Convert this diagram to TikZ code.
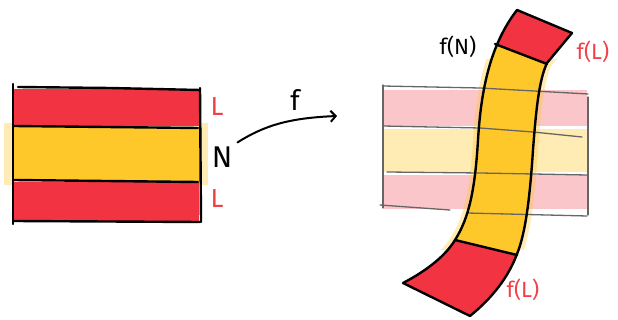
\documentclass[tikz,border=0pt]{standalone}
\usepackage{fontspec}
\setmainfont{Fira Sans}
\usetikzlibrary{arrows.meta}
\definecolor{flagred}{RGB}{242,52,66}
\definecolor{flagyellow}{RGB}{255,200,42}
\definecolor{labelred}{RGB}{240,64,72}
\newcommand\stripoutline{(517,10) -- (572,33) -- (547,63)
  .. controls (539,80) and (536,110) .. (533,150)
  .. controls (530,195) and (526,232) .. (517,254)
  .. controls (508,278) and (492,298) .. (470,316) -- (403,283)
  .. controls (428,270) and (446,255) .. (455,240)
  .. controls (469,218) and (475,190) .. (478,140)
  .. controls (481,90) and (490,45) .. (517,10) -- cycle}

\begin{document}
\begin{tikzpicture}[x=1pt,y=-1pt,
  outline/.style={line width=2.4pt,line cap=round,line join=round},
  faint/.style={line width=1.3pt,gray!80!black,line cap=round,line join=round},
  redlabel/.style={text=labelred,inner sep=1pt},
  blacklabel/.style={inner sep=1pt},
  arr/.style={-{Straight Barb[length=5pt,width=11pt]},line width=2pt,line cap=round},
]
\useasboundingbox (0,0) rectangle (618,320);

% Left flag
\fill[flagyellow,opacity=0.35] (4,123) rectangle (208,185);
\fill[flagyellow] (12,127) rectangle (202,181);
\fill[flagred] (14,89) rectangle (199,126);
\fill[flagred] (14,182) rectangle (199,221);
\draw[outline] (13,84) -- (13,224);
\draw[outline] (18,87) -- (110,88) -- (200,90);
\draw[outline] (200,88) -- (201,222);
\draw[outline] (14,126) -- (198,128);
\draw[outline] (14,180) -- (198,182);
\draw[outline] (14,221) -- (200,222);

\node[redlabel,font=\fontsize{26}{26}\selectfont] (Ltop) at (217,107) {L};
\node[redlabel,font=\fontsize{26}{26}\selectfont] (Lbot) at (217,199) {L};
\node[blacklabel,font=\fontsize{30}{30}\selectfont] (N) at (222,157) {N};

% Mapping arrow
\coordinate (fend) at (337,116);
\draw[arr] ([shift={(4,-3)}]N.north east) .. controls (265,125) and (290,118) .. (fend);
\node[blacklabel,font=\fontsize{28}{28}\selectfont] (f) at (295,100) {f};

% Faded flag behind the image
\fill[flagred!28] (384,90) rectangle (587,126);
\fill[flagyellow!35] (384,129) rectangle (587,172);
\fill[flagred!28] (384,175) rectangle (587,209);

% Image of the stripe
\begin{scope}
  \clip (380,60) rectangle (600,250);
  \draw[flagyellow,opacity=0.35,line width=10pt] \stripoutline;
\end{scope}
\begin{scope}
  \clip \stripoutline;
  \fill[flagyellow] (380,0) rectangle (620,330);
  \fill[flagred] (470,0) -- (620,0) -- (620,92) -- (547,64) -- (495,44) -- (470,34) -- cycle;
  \fill[flagred] (380,222) -- (560,265) -- (560,330) -- (380,330) -- cycle;
\end{scope}

% Faded flag lines
\draw[faint] (383,86) -- (480,88) -- (588,94);
\draw[faint] (383,126) -- (480,128) -- (533,132) -- (582,137);
\draw[faint] (387,172) -- (480,173) -- (587,175);
\draw[faint] (380,205) -- (450,210);
\draw[faint] (467,213) -- (587,216);
\draw[faint] (383,85) -- (383,208);
\draw[faint] (588,97) -- (588,215);

% Stripe outline
\draw[outline] \stripoutline;
\draw[outline] (495,44) -- (547,64);
\draw[outline] (455,240) -- (517,255);

\node[blacklabel,font=\fontsize{22}{22}\selectfont] (fN) at (458,47) {f(N)};
\node[redlabel,font=\fontsize{22}{22}\selectfont] (fLtop) at (593,52) {f(L)};
\node[redlabel,font=\fontsize{22}{22}\selectfont] (fLbot) at (523,290) {f(L)};

\end{tikzpicture}
\end{document}
